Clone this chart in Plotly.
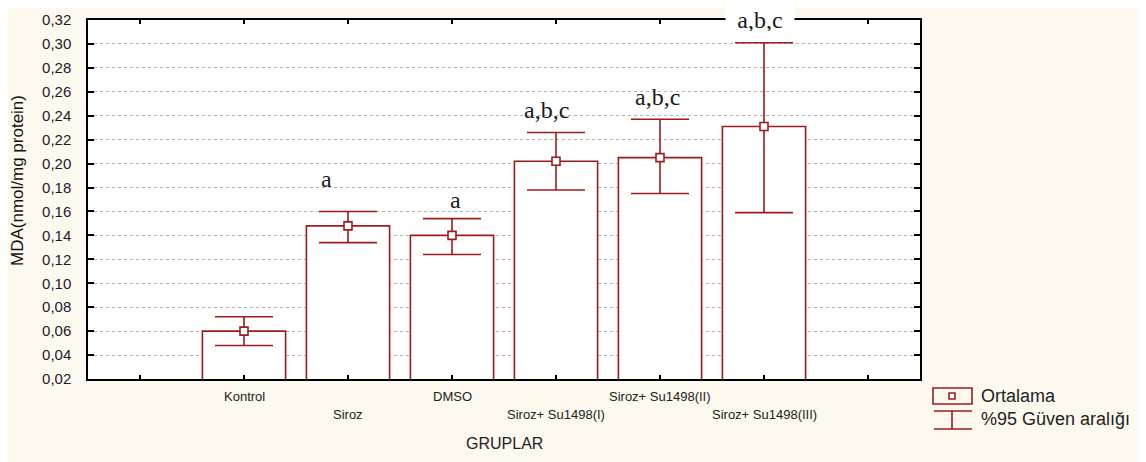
import plotly.graph_objects as go

# ---- data ----
groups = ["Kontrol", "Siroz", "DMSO", "Siroz+ Su1498(I)", "Siroz+ Su1498(II)", "Siroz+ Su1498(III)"]
positions = [1, 2, 3, 4, 5, 6]
means = [0.060, 0.148, 0.140, 0.202, 0.205, 0.231]
upper = [0.072, 0.160, 0.154, 0.226, 0.237, 0.301]
lower = [0.048, 0.134, 0.124, 0.178, 0.175, 0.159]
sig_labels = ["", "a", "a", "a,b,c", "a,b,c", "a,b,c"]
sig_y = [None, 0.187, 0.170, 0.245, 0.256, 0.320]
sig_dx = [0, -0.21, 0.03, -0.09, -0.02, -0.04]
label_row = [0, 1, 0, 1, 0, 1]
y_ticks = [0.02, 0.04, 0.06, 0.08, 0.10, 0.12, 0.14, 0.16, 0.18, 0.20, 0.22, 0.24, 0.26, 0.28, 0.30, 0.32]
y_ticktext = [f"{v:.2f}".replace(".", ",") for v in y_ticks]

RED = "#9b1c1f"
OFF = 8  # default body margin of the html page
W, H = 1146 - OFF, 462 - OFF
L, R, T, B = 88, 920, 20, 379  # plot area in window pixels
SANS = "Liberation Sans, Arial, sans-serif"
SERIF = "Liberation Serif, Times New Roman, serif"


def px(x):
    return (x - L) / (R - L)


def py(y):
    return (B - y) / (B - T)


fig = go.Figure()
fig.add_trace(go.Bar(
    x=positions, y=means, base=0, width=0.8,
    marker=dict(color="white", line=dict(color=RED, width=1.6)),
    showlegend=False, hoverinfo="skip",
))
fig.add_trace(go.Scatter(
    x=positions, y=means, mode="markers",
    marker=dict(symbol="square", size=8, color="white", line=dict(color=RED, width=1.6)),
    error_y=dict(type="data", symmetric=False,
                 array=[u - m for u, m in zip(upper, means)],
                 arrayminus=[m - l for m, l in zip(means, lower)],
                 color=RED, thickness=1.6, width=29),
    showlegend=False,
))

annotations = []
for p, lab, yy, dx in zip(positions, sig_labels, sig_y, sig_dx):
    if lab:
        top = yy >= 0.31
        annotations.append(dict(
            x=p + dx, y=yy, xref="x", yref="y", text=lab, showarrow=False,
            font=dict(family=SERIF, size=24, color="#1a1a1a"),
            bgcolor="white" if top else "rgba(0,0,0,0)",
            borderpad=1 if not top else 0,
            width=68 if top else None,
            height=22 if top else None,
        ))
for p, g, row in zip(positions, groups, label_row):
    annotations.append(dict(
        x=p, y=py(396 + 18 * row), xref="x", yref="paper", text=g, showarrow=False,
        font=dict(family=SANS, size=13, color="#222"),
        yanchor="middle",
    ))
annotations.append(dict(
    x=0.5, y=py(443), xref="paper", yref="paper", text="GRUPLAR", showarrow=False,
    font=dict(family=SANS, size=16, color="#222"), yanchor="middle",
))
annotations.append(dict(
    x=px(17), y=py(181), xref="paper", yref="paper", text="MDA(nmol/mg protein)", showarrow=False,
    textangle=-90, xanchor="center", yanchor="middle",
    font=dict(family=SANS, size=17, color="#111"),
))
annotations.append(dict(
    x=px(979), y=py(396), xref="paper", yref="paper", text="Ortalama", showarrow=False,
    xanchor="left", yanchor="middle",
    font=dict(family=SANS, size=18, color="#222"),
))
annotations.append(dict(
    x=px(979), y=py(419), xref="paper", yref="paper", text="%95 Güven aralığı", showarrow=False,
    xanchor="left", yanchor="middle",
    font=dict(family=SANS, size=18, color="#222"),
))

shapes = [
    dict(type="rect", xref="paper", yref="paper", x0=px(933), x1=px(972), y0=py(404), y1=py(388),
         line=dict(color=RED, width=1.6), fillcolor="rgba(0,0,0,0)"),
    dict(type="rect", xref="paper", yref="paper", x0=px(949), x1=px(955), y0=py(399), y1=py(393),
         line=dict(color=RED, width=1.6), fillcolor="white"),
    dict(type="line", xref="paper", yref="paper", x0=px(934), x1=px(972), y0=py(411), y1=py(411),
         line=dict(color=RED, width=1.6)),
    dict(type="line", xref="paper", yref="paper", x0=px(952), x1=px(952), y0=py(411), y1=py(429),
         line=dict(color=RED, width=1.6)),
    dict(type="line", xref="paper", yref="paper", x0=px(934), x1=px(972), y0=py(429), y1=py(429),
         line=dict(color=RED, width=1.6)),
]

fig.update_layout(
    width=W, height=H,
    margin=dict(l=L - OFF, r=W - (R - OFF), t=T - OFF, b=H - (B - OFF), pad=0, autoexpand=False),
    paper_bgcolor="#fdf9ee", plot_bgcolor="white",
    annotations=annotations, shapes=shapes,
)
fig.update_xaxes(
    range=[-0.5, 7.5], tickvals=list(range(8)), ticktext=[""] * 8,
    ticks="inside", ticklen=4, tickcolor="black", tickwidth=1.5,
    showline=True, linecolor="black", linewidth=1.5, mirror="ticks",
    showgrid=False, zeroline=False,
)
fig.update_yaxes(
    range=[0.02, 0.32], tickvals=y_ticks, ticktext=y_ticktext,
    ticks="inside", ticklen=6, tickcolor="black", tickwidth=1.5,
    showline=True, linecolor="black", linewidth=1.5, mirror="ticks",
    showgrid=True, gridcolor="#b5b5b5", griddash="dot", gridwidth=1,
    zeroline=False, ticklabelstandoff=12,
    tickfont=dict(family=SANS, size=15, color="#1b1b2a"),
)

fig.write_html("out.html")
